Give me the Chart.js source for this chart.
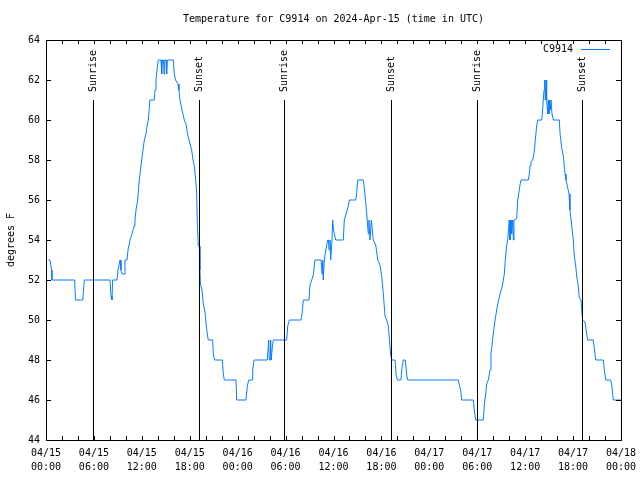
<!DOCTYPE html>
<html>
<head>
<meta charset="utf-8">
<script src="https://cdn.jsdelivr.net/npm/chart.js@4.4.1/dist/chart.umd.min.js"></script>
<style>
  html, body { margin: 0; padding: 0; background: #fff; }
  #wrap { width: 640px; height: 480px; }
</style>
</head>
<body>
<div id="wrap"><canvas id="tempchart" width="640" height="480"></canvas></div>
<script>
/*-------------- data ------------*/
// hours since 04/15 00:00 UTC
var hours = [
  0.29, 0.5, 0.69, 0.75, 3.59, 3.69, 4.6, 4.8, 8.01, 8.14, 8.26, 8.35, 8.89, 9.02, 9.27, 9.39, 9.52, 9.77, 9.89, 10.14,
  10.27, 10.52, 10.77, 11.02, 11.14, 11.27, 11.48, 11.58, 11.68, 11.83, 11.98, 12.15, 12.31, 12.52, 12.65, 12.81, 13.02, 13.56, 13.65, 13.77,
  13.9, 14.06, 14.4, 14.49, 14.57, 14.72, 14.78, 14.86, 15.03, 15.11, 15.19, 15.94, 16.07, 16.22, 16.53, 16.65, 16.78, 17.03, 17.32, 17.53,
  17.72, 17.91, 18.24, 18.41, 18.57, 18.75, 18.87, 18.95, 19.07, 19.2, 19.28, 19.34, 19.53, 19.7, 19.91, 20.04, 20.2, 20.32, 20.87, 20.95,
  21.12, 22.08, 22.2, 22.33, 23.79, 23.88, 25.04, 25.21, 25.38, 25.8, 25.88, 26.05, 27.71, 27.89, 27.96, 28.05, 28.13, 28.21, 28.3, 28.46,
  30.14, 30.27, 30.47, 31.93, 32.06, 32.22, 32.93, 33.06, 33.27, 33.47, 33.68, 34.44, 34.56, 34.65, 34.72, 34.85, 34.94, 35.15, 35.27, 35.37,
  35.44, 35.56, 35.65, 35.81, 35.9, 36.0, 36.28, 37.23, 37.35, 37.57, 37.85, 37.98, 38.78, 38.9, 39.03, 39.73, 39.94, 40.16, 40.36, 40.44,
  40.57, 40.74, 40.86, 40.98, 41.29, 41.54, 41.82, 42.03, 42.24, 42.45, 42.66, 42.86, 42.99, 43.16, 43.29, 43.71, 43.83, 44.0, 44.45, 44.62,
  44.74, 44.99, 45.17, 45.29, 51.63, 51.75, 51.93, 52.05, 53.51, 53.63, 53.81, 54.76, 54.88, 55.06, 55.18, 55.38, 55.6, 55.72, 55.85, 56.01,
  56.14, 56.31, 56.44, 56.56, 56.69, 56.85, 57.14, 57.26, 57.39, 57.51, 57.69, 57.81, 58.01, 58.1, 58.23, 58.31, 58.44, 58.52, 58.6, 58.73,
  58.94, 59.07, 59.19, 59.35, 59.48, 60.39, 60.52, 60.61, 60.73, 60.94, 61.14, 61.27, 61.44, 61.57, 62.07, 62.15, 62.27, 62.36, 62.44, 62.52,
  62.61, 62.69, 62.82, 62.89, 62.98, 63.06, 63.14, 63.24, 63.36, 63.53, 64.28, 64.37, 64.58, 64.78, 64.99, 65.11, 65.28, 65.49, 65.61, 65.83,
  66.03, 66.15, 66.33, 66.45, 66.65, 66.78, 66.99, 67.08, 67.2, 67.49, 67.71, 67.83, 68.53, 68.66, 68.83, 69.79, 69.91, 70.09, 70.71, 70.84,
  71.04, 72.0
];
// degrees F
var temps = [
  53, 53, 52.5, 52, 52, 51, 51, 52, 52, 51.2, 51, 52, 52, 52.5, 53, 52.5, 52.3, 52.3, 53, 53,
  53.5, 54, 54.3, 54.7, 55, 55.5, 56, 56.5, 57, 57.5, 58, 58.5, 59, 59.3, 59.7, 60, 61, 61, 61.5, 62,
  62.5, 63, 63, 62.3, 63, 63, 62.3, 63, 63, 62.3, 63, 63, 62.3, 62, 61.8, 61.5, 61, 60.5, 60, 59.8,
  59.3, 59, 58.5, 58, 57.7, 57, 56.3, 54.8, 53.7, 53.7, 52.5, 51.8, 51.5, 50.8, 50.4, 49.8, 49.3, 49, 49, 48.3,
  48, 48, 47.3, 47, 47, 46, 46, 46.7, 47, 47, 47.5, 48, 48, 49, 48, 48, 49, 48, 48.5, 49,
  49, 49.7, 50, 50, 50.3, 51, 51, 51.75, 52, 52.25, 53, 53, 52.3, 53, 52, 53, 53.25, 53.75, 54, 54,
  53.5, 54, 53, 54, 55, 54.5, 54, 54, 55, 55.3, 55.7, 56, 56, 56.3, 57, 57, 56.3, 55.3, 54.3, 55,
  54, 55, 54.5, 54, 53.75, 53, 52.75, 52.2, 51.3, 50.2, 50, 49.7, 49.1, 48.25, 48, 48, 47.3, 47, 47, 47.75,
  48, 48, 47.25, 47, 47, 46.75, 46.5, 46, 46, 45.5, 45, 45, 45.75, 46.3, 46.8, 47, 47.5, 48.3, 48.75, 49.3,
  49.75, 50.2, 50.5, 50.8, 51, 51.3, 51.7, 52, 52.3, 53, 53.75, 54, 55, 54, 55, 54.3, 55, 54, 55, 55,
  55.1, 56, 56.3, 56.75, 57, 57, 57.3, 57.7, 57.9, 58, 58.4, 59, 59.7, 60, 60, 60.3, 61, 61.5, 62, 61,
  62, 61, 60.3, 61, 60.3, 61, 60.5, 61, 60.3, 60, 60, 59.3, 58.6, 58.2, 57.3, 57, 56.7, 56.3, 55.5, 54.7,
  54, 53.2, 52.7, 52.2, 51.7, 51.1, 51, 50.5, 50, 49.9, 49.3, 49, 49, 48.6, 48, 48, 47.5, 47, 47, 46.75,
  46, 46
];
var sunriseHours = [5.93, 29.84, 53.93];
var sunsetHours = [19.2, 43.24, 67.16];
var stationName = "C9914";
var chartTitle = "Temperature for C9914 on 2024-Apr-15 (time in UTC)";
var yAxisTitle = "degrees F";
var dayLabels = ["04/15", "04/16", "04/17", "04/18"];

var lineColor = "#0a7cff";
var monoFont = "'DejaVu Sans Mono', 'Liberation Mono', monospace";

var points = hours.map(function (h, i) { return { x: h, y: temps[i] }; });

function pad2(n) { return (n < 10 ? "0" : "") + n; }

/*-------------- gnuplot style decorations ------------*/
var gnuplotDecor = {
  id: 'gnuplotDecor',
  afterDraw: function (chart) {
    var ctx = chart.ctx;
    var area = chart.chartArea;
    var xs = chart.scales.x;
    var ys = chart.scales.y;
    ctx.save();

    // frame
    ctx.strokeStyle = '#000';
    ctx.lineWidth = 1;
    ctx.strokeRect(Math.round(area.left) + 0.5, Math.round(area.top) + 0.5,
      Math.round(area.right - area.left), Math.round(area.bottom - area.top));

    // inward ticks, mirrored
    ctx.beginPath();
    xs.ticks.forEach(function (t) {
      var px = Math.round(xs.getPixelForValue(t.value)) + 0.5;
      ctx.moveTo(px, area.bottom); ctx.lineTo(px, area.bottom - 4);
      ctx.moveTo(px, area.top); ctx.lineTo(px, area.top + 4);
    });
    ys.ticks.forEach(function (t) {
      var py = Math.round(ys.getPixelForValue(t.value)) + 0.5;
      ctx.moveTo(area.left, py); ctx.lineTo(area.left + 5, py);
      ctx.moveTo(area.right, py); ctx.lineTo(area.right - 5, py);
    });
    ctx.stroke();

    // sunrise / sunset markers
    ctx.font = '10px ' + monoFont;
    ctx.fillStyle = '#000';
    function marker(h, label) {
      var px = Math.round(xs.getPixelForValue(h)) + 0.5;
      var top = ys.getPixelForValue(61);
      ctx.beginPath();
      ctx.moveTo(px, top);
      ctx.lineTo(px, ys.getPixelForValue(44));
      ctx.stroke();
      ctx.save();
      ctx.translate(px, top - 8);
      ctx.rotate(-Math.PI / 2);
      ctx.textAlign = 'left';
      ctx.textBaseline = 'middle';
      ctx.fillText(label, 0, 0);
      ctx.restore();
    }
    sunriseHours.forEach(function (h) { marker(h, 'Sunrise'); });
    sunsetHours.forEach(function (h) { marker(h, 'Sunset'); });

    // title, centred over the plot area
    ctx.textAlign = 'center';
    ctx.textBaseline = 'middle';
    ctx.fillText(chartTitle, (area.left + area.right) / 2, 19);

    // y axis title
    ctx.save();
    ctx.translate(11, (area.top + area.bottom) / 2);
    ctx.rotate(-Math.PI / 2);
    ctx.fillText(yAxisTitle, 0, 0);
    ctx.restore();

    // key
    ctx.textAlign = 'right';
    ctx.fillText(stationName, area.right - 48, area.top + 9);
    ctx.strokeStyle = lineColor;
    ctx.beginPath();
    ctx.moveTo(area.right - 40, area.top + 9.5);
    ctx.lineTo(area.right - 11, area.top + 9.5);
    ctx.stroke();

    ctx.restore();
  }
};

/*-------------- chart ------------*/
var ctx = document.getElementById("tempchart").getContext('2d');
var chart = new Chart(ctx, {
  type: 'line',
  data: {
    datasets: [{
      label: stationName,
      data: points,
      borderColor: lineColor,
      borderWidth: 1,
      pointRadius: 0,
      tension: 0,
      fill: false
    }]
  },
  options: {
    responsive: false,
    animation: false,
    layout: { padding: { top: 40, right: 19, left: 0, bottom: 0 } },
    plugins: {
      legend: { display: false },
      title: { display: false },
      tooltip: { enabled: false }
    },
    scales: {
      x: {
        type: 'linear',
        min: 0,
        max: 72,
        afterFit: function (scale) {
          scale.height = 40;
          scale.paddingLeft = 0;
          scale.paddingRight = 0;
        },
        grid: { display: false, drawTicks: false },
        border: { display: false },
        ticks: {
          stepSize: 2,
          autoSkip: false,
          maxRotation: 0,
          padding: 6,
          color: '#000',
          font: { family: monoFont, size: 10, lineHeight: 1.4 },
          callback: function (v) {
            if (v % 6 !== 0) return '';
            return [dayLabels[Math.floor(v / 24)], pad2(v % 24) + ':00'];
          }
        }
      },
      y: {
        min: 44,
        max: 64,
        afterFit: function (scale) {
          scale.width = 46;
          scale.paddingTop = 0;
          scale.paddingBottom = 0;
        },
        grid: { display: false, drawTicks: false },
        border: { display: false },
        ticks: {
          stepSize: 2,
          padding: 6,
          color: '#000',
          font: { family: monoFont, size: 10 }
        }
      }
    }
  },
  plugins: [gnuplotDecor]
});
</script>
</body>
</html>
